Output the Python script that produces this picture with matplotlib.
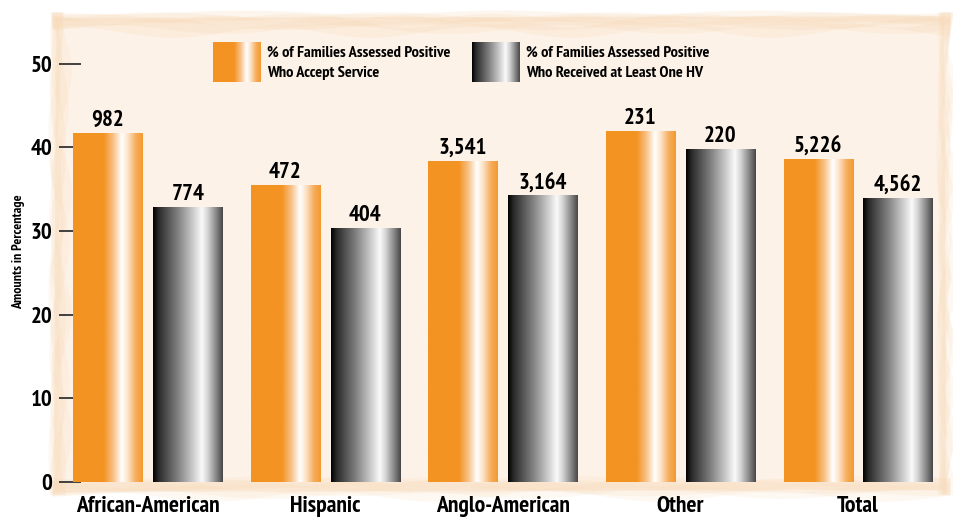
import numpy as np
import matplotlib.pyplot as plt
from matplotlib.colors import LinearSegmentedColormap

groups = ['African-American', 'Hispanic', 'Anglo-American', 'Other', 'Total']
accept_pct = [41.7, 35.4, 38.3, 41.9, 38.6]
received_pct = [32.8, 30.3, 34.2, 39.7, 33.9]
accept_n = ['982', '472', '3,541', '231', '5,226']
received_n = ['774', '404', '3,164', '220', '4,562']
legend_labels = ['% of Families Assessed Positive\nWho Accept Service',
                 '% of Families Assessed Positive\nWho Received at Least One HV']
yticks = [0, 10, 20, 30, 40, 50]

FONT = ['PT Sans Narrow', 'DejaVu Sans']
peach = '#fdf2e7'
stroke = '#f8d9b6'

orange_cm = LinearSegmentedColormap.from_list('orange_bar', [
    (0.0, '#f39322'), (0.44, '#f39322'), (0.58, '#f8c28a'),
    (0.70, '#ffffff'), (0.78, '#fde6cc'), (0.90, '#f6ad5e'), (1.0, '#f39a2e')])
gray_cm = LinearSegmentedColormap.from_list('gray_bar', [
    (0.0, '#000000'), (0.08, '#2a2a2a'), (0.35, '#7f7f7f'), (0.55, '#c4c4c4'),
    (0.70, '#fafafa'), (0.78, '#d6d6d6'), (0.90, '#8a8a8a'), (1.0, '#474747')])

fig = plt.figure(figsize=(9.54, 5.17), dpi=100)

# painted backdrop with brushy edges
bg = fig.add_axes([0, 0, 1, 1], zorder=0)
bg.set_xlim(0, 954)
bg.set_ylim(517, 0)
bg.axis('off')
bg.fill([56, 944, 946, 54], [18, 16, 490, 492], color=peach, lw=0)
t = np.linspace(0, 1, 200)
for k in range(5):
    a = 2.0 + k * 0.8
    ph = k * 1.7
    xs = 52 + t * 898
    bg.fill_between(xs, 12 + k * 2.5 + a * np.sin(t * (7 + k) * np.pi + ph),
                    20 + k * 3 + a * np.sin(t * (5 + k) * np.pi + ph * 0.6),
                    color=stroke, alpha=0.22, lw=0)
    bg.fill_between(xs, 478 + k * 2 + a * np.sin(t * (6 + k) * np.pi + ph),
                    488 + k * 2 + a * np.sin(t * (4 + k) * np.pi + ph * 0.5),
                    color=stroke, alpha=0.18, lw=0)
    ys = 12 + t * 482
    bg.fill_betweenx(ys, 50 + k * 1.5 + a * np.sin(t * (6 + k) * np.pi + ph),
                     58 + k * 2 + a * np.sin(t * (4 + k) * np.pi + ph * 0.7),
                     color=stroke, alpha=0.18, lw=0)
    bg.fill_betweenx(ys, 938 + k * 1.5 + a * np.sin(t * (5 + k) * np.pi + ph),
                     946 + k * 1.2 + a * np.sin(t * (7 + k) * np.pi + ph * 0.4),
                     color=stroke, alpha=0.18, lw=0)

ax = fig.add_axes([59 / 954, 35 / 517, 886 / 954, 460 / 517], zorder=1)
ax.patch.set_alpha(0)

x = np.arange(len(groups))
w = 0.389
off = 0.225
grad = np.linspace(0, 1, 256).reshape(1, -1)

for xi, val, lab in zip(x - off, accept_pct, accept_n):
    ax.imshow(grad, cmap=orange_cm, extent=(xi - w / 2, xi + w / 2, 0, val),
              aspect='auto', zorder=2, interpolation='bilinear')
    ax.text(xi, val + 0.3, lab, ha='center', va='bottom', fontsize=16.5,
            fontweight='bold', family=FONT)
for xi, val, lab in zip(x + off, received_pct, received_n):
    ax.imshow(grad, cmap=gray_cm, extent=(xi - w / 2, xi + w / 2, 0, val),
              aspect='auto', zorder=2, interpolation='bilinear')
    ax.text(xi, val + 0.3, lab, ha='center', va='bottom', fontsize=16.5,
            fontweight='bold', family=FONT)

ax.set_xlim(-0.5, 4.49)
ax.set_ylim(0, 55)
ax.set_yticks(yticks)
ax.set_yticklabels([str(v) for v in yticks], fontsize=16.5, fontweight='bold', family=FONT)
ax.tick_params(axis='y', direction='in', length=16, width=1.3, color='#333333', pad=5)
ax.set_xticks(x)
ax.set_xticklabels(groups, fontsize=17, fontweight='bold', family=FONT)
ax.tick_params(axis='x', length=0, pad=10)
for s in ax.spines.values():
    s.set_visible(False)
ax.set_ylabel('Amounts in Percentage', fontsize=10, fontweight='bold', family=FONT, labelpad=4)

# legend swatches drawn as gradient images
leg = fig.add_axes([0, 0, 1, 1], zorder=2)
for cm, x0, lab in zip([orange_cm, gray_cm], [213, 472], legend_labels):
    leg.imshow(grad, cmap=cm, extent=(x0, x0 + 48, 82, 42), aspect='auto',
               interpolation='bilinear')
    leg.text(x0 + 54, 62.5, lab, ha='left', va='center', fontsize=11.8,
             fontweight='bold', family=FONT, linespacing=1.55)
leg.set_xlim(0, 954)
leg.set_ylim(517, 0)
leg.axis('off')

fig.savefig('out.png', dpi=100)
